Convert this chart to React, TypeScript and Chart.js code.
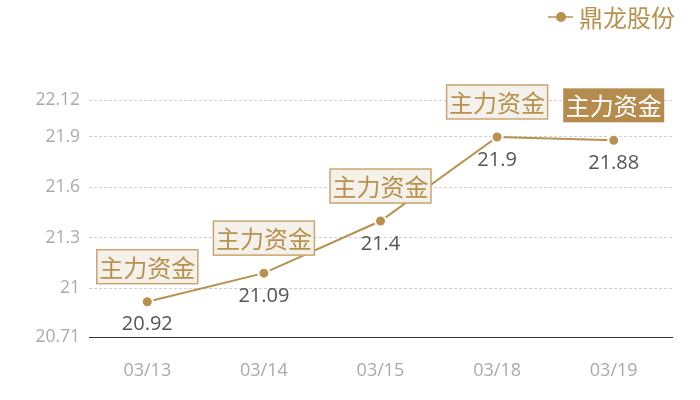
import React, { useEffect, useRef } from "react";
import { Chart, registerables } from "chart.js";

Chart.register(...registerables);

const categories = ["03/13", "03/14", "03/15", "03/18", "03/19"];
const prices = [20.92, 21.09, 21.4, 21.9, 21.88];
const yTicks = [20.71, 21, 21.3, 21.6, 21.9, 22.12];
const seriesName = "鼎龙股份";
const boxLabel = "主力资金";
const highlightIndex = 4;

const GOLD = "#b8914f";
const NUM_FONT = "'Open Sans', 'Noto Sans CJK SC', sans-serif";
const CJK_FONT = "'Noto Sans CJK SC', sans-serif";

const overlayPlugin = {
  id: "overlay",
  afterDatasetsDraw(chart: any) {
    const ctx = chart.ctx;
    const meta = chart.getDatasetMeta(0);
    ctx.save();
    meta.data.forEach((pt: any, i: number) => {
      const x = pt.x;
      const y = pt.y;
      // value label
      ctx.font = `20px ${NUM_FONT}`;
      ctx.fillStyle = "#555555";
      ctx.textAlign = "center";
      ctx.textBaseline = "middle";
      ctx.fillText(String(prices[i]), x, y + 23);
      // box label
      const w = 101;
      const h = 34;
      const bx = x - w / 2;
      const by = y - 18 - h;
      if (i === highlightIndex) {
        ctx.fillStyle = "#b58c4e";
        ctx.fillRect(bx, by, w, h);
        ctx.fillStyle = "#ffffff";
      } else {
        ctx.fillStyle = "#f4f0ea";
        ctx.fillRect(bx, by, w, h);
        ctx.strokeStyle = "#c9a671";
        ctx.lineWidth = 1.5;
        ctx.strokeRect(bx, by, w, h);
        ctx.fillStyle = GOLD;
      }
      ctx.font = `24px ${CJK_FONT}`;
      ctx.fillText(boxLabel, x, by + h / 2 + 1);
    });
    // legend
    ctx.strokeStyle = GOLD;
    ctx.lineWidth = 1.5;
    ctx.beginPath();
    ctx.moveTo(548, 17);
    ctx.lineTo(573, 17);
    ctx.stroke();
    ctx.fillStyle = GOLD;
    ctx.beginPath();
    ctx.arc(561, 17, 5, 0, Math.PI * 2);
    ctx.fill();
    ctx.font = `24px ${CJK_FONT}`;
    ctx.textAlign = "left";
    ctx.textBaseline = "middle";
    ctx.fillText(seriesName, 579, 18);
    ctx.restore();
  },
};

export default function App() {
  const ref = useRef<HTMLCanvasElement | null>(null);
  useEffect(() => {
    document.body.style.margin = "0";
    const chart = new Chart(ref.current as HTMLCanvasElement, {
      type: "line",
      data: {
        labels: categories,
        datasets: [
          {
            label: seriesName,
            data: prices,
            borderColor: GOLD,
            borderWidth: 2,
            backgroundColor: GOLD,
            pointBackgroundColor: GOLD,
            pointBorderColor: "#ffffff",
            pointBorderWidth: 2,
            pointRadius: 5.5,
            tension: 0,
            fill: false,
          },
        ],
      },
      options: {
        responsive: false,
        animation: false,
        layout: { padding: { top: 100, right: 28, left: 0, bottom: 0 } },
        plugins: {
          legend: { display: false },
          tooltip: { enabled: false },
        },
        scales: {
          x: {
            offset: true,
            grid: { display: false, drawTicks: false },
            border: { display: true, color: "#333333", width: 1 },
            ticks: {
              color: "#aaaaaa",
              font: { size: 18, family: NUM_FONT },
              padding: 23,
            },
            afterFit(scale: any) {
              scale.height = 63;
            },
          },
          y: {
            min: 20.71,
            max: 22.12,
            afterBuildTicks(scale: any) {
              scale.ticks = yTicks.map((v) => ({ value: v }));
            },
            afterFit(scale: any) {
              scale.width = 89;
            },
            grid: {
              color: "#d0d0d0",
              lineWidth: 1,
              drawTicks: false,
            },
            border: { display: false, dash: [3, 2] },
            ticks: {
              color: "#aaaaaa",
              font: { size: 17.5, family: NUM_FONT },
              padding: 9,
              callback: (v: any) => String(v),
            },
          },
        },
      },
      plugins: [overlayPlugin],
    } as any);
    return () => chart.destroy();
  }, []);
  return (
    <div style={{ width: 700, height: 400 }}>
      <canvas ref={ref} width={700} height={400} style={{ display: "block" }} />
    </div>
  );
}
